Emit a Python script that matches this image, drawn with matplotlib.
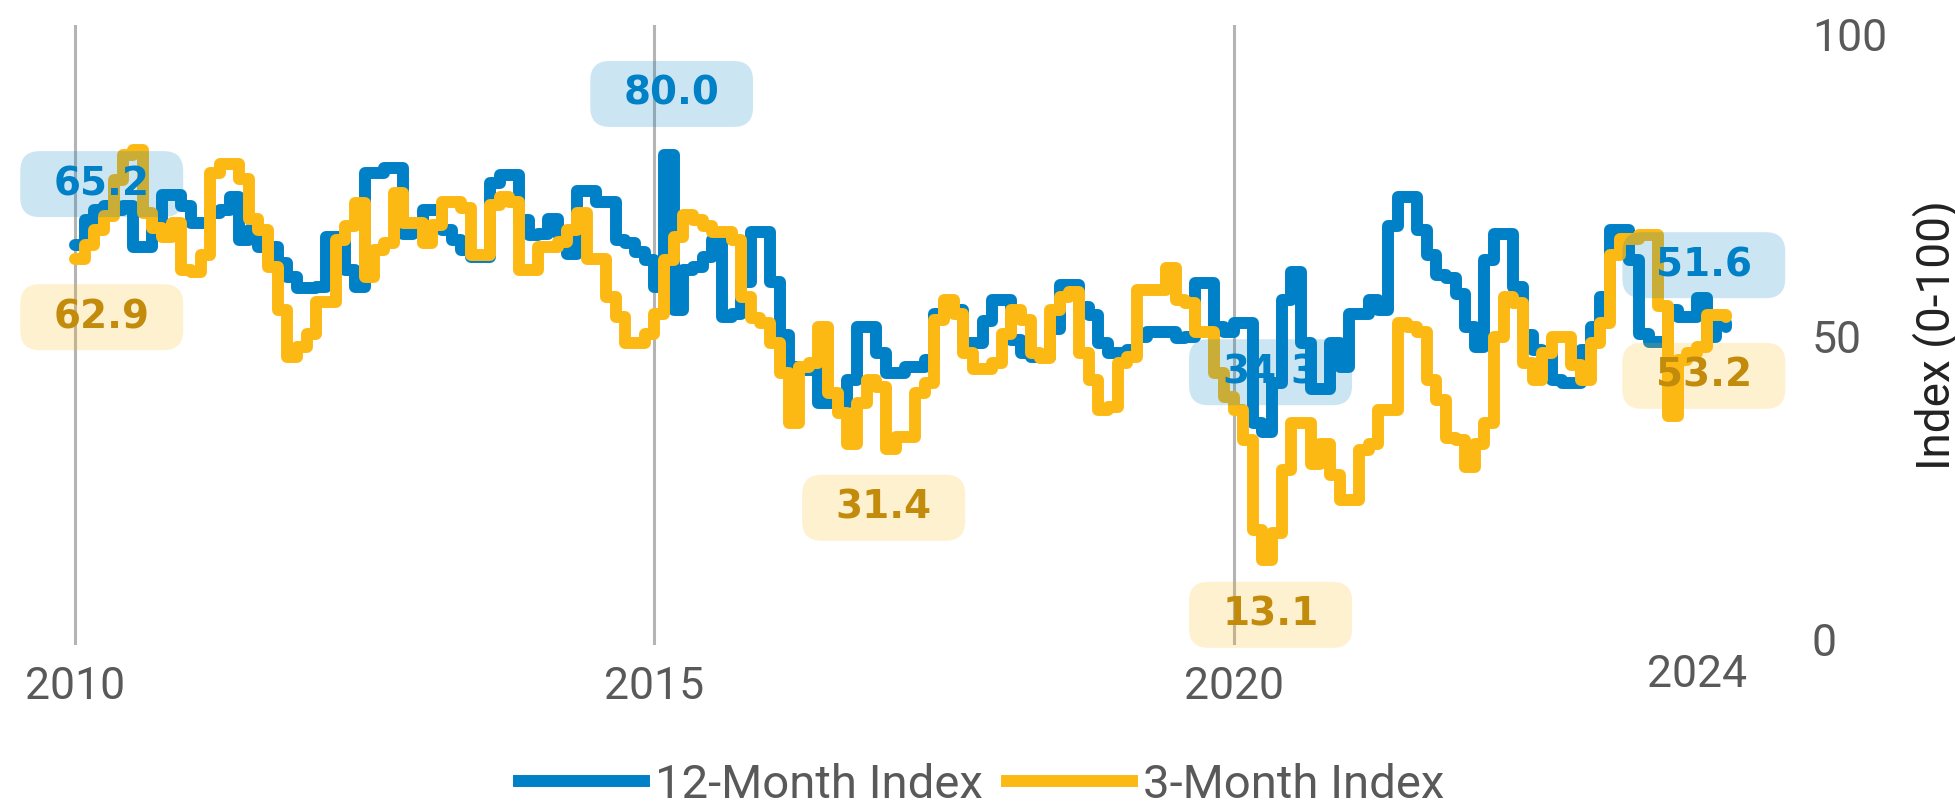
import numpy as np
import matplotlib.pyplot as plt
from matplotlib.patches import BoxStyle
from matplotlib.lines import Line2D
import matplotlib.transforms as mtransforms

# monthly index values, Jan 2010 onwards
index_12m = [
    65.2, 69.3, 70.9, 71.5, 70.9, 71.5, 64.8, 64.8, 67.6, 73.4,
    73.4, 71.5, 68.7, 68.7, 70.4, 70.9, 73.0, 66.0, 67.6, 64.8,
    64.8, 62.1, 59.9, 58.0, 58.0, 58.2, 66.5, 66.5, 61.0, 58.2,
    77.0, 77.0, 77.9, 77.9, 67.0, 68.4, 70.9, 70.9, 67.6, 66.0,
    64.3, 63.2, 63.2, 75.3, 76.7, 76.7, 69.3, 66.8, 67.0, 69.5,
    67.0, 63.7, 74.0, 74.0, 72.3, 72.3, 66.0, 65.4, 64.0, 62.6,
    58.2, 80.0, 54.4, 61.0, 61.5, 63.2, 66.0, 53.3, 53.8, 59.0,
    67.3, 67.3, 59.0, 50.3, 45.0, 44.5, 44.5, 39.0, 39.0, 39.0,
    42.8, 51.6, 51.6, 47.2, 43.9, 43.9, 45.0, 45.0, 46.1, 53.8,
    54.4, 54.4, 48.9, 48.9, 52.5, 56.0, 56.0, 49.4, 47.2, 46.7,
    46.7, 51.3, 58.5, 58.5, 54.9, 53.6, 48.9, 47.2, 47.2, 47.8,
    50.0, 50.8, 50.8, 50.8, 49.7, 50.0, 58.8, 58.8, 51.6, 50.8,
    52.2, 52.2, 35.7, 34.3, 42.3, 56.0, 60.7, 48.9, 41.4, 41.4,
    48.9, 45.0, 53.8, 53.8, 56.0, 54.4, 68.2, 73.1, 73.1, 67.6,
    63.5, 60.2, 59.6, 57.1, 51.6, 48.3, 62.6, 67.0, 67.0, 58.2,
    50.3, 47.8, 47.2, 42.8, 42.3, 42.3, 47.8, 51.6, 56.6, 67.6,
    67.6, 62.6, 50.5, 49.1, 49.1, 54.4, 53.3, 53.3, 56.3, 50.0,
    52.2, 51.6,
]
index_3m = [
    62.9, 65.1, 67.6, 70.0, 75.9, 80.0, 80.8, 70.4, 68.0, 66.5,
    68.7, 61.0, 60.7, 63.5, 77.0, 78.6, 78.6, 76.1, 69.5, 67.6,
    61.5, 54.4, 46.7, 48.3, 50.5, 55.7, 55.7, 66.0, 68.2, 72.0,
    59.9, 64.3, 65.4, 73.7, 68.7, 68.7, 65.4, 68.4, 72.3, 72.3,
    71.2, 63.5, 63.5, 71.7, 73.1, 72.3, 61.0, 61.0, 64.8, 64.8,
    65.7, 67.6, 70.4, 62.9, 62.9, 56.6, 53.3, 48.9, 48.9, 50.5,
    53.8, 62.6, 66.5, 70.1, 69.3, 68.2, 67.3, 67.3, 66.0, 56.6,
    53.0, 52.2, 48.9, 43.9, 35.7, 45.0, 45.6, 51.6, 40.6, 37.3,
    32.3, 39.0, 42.8, 41.7, 31.4, 33.4, 33.4, 40.6, 42.3, 52.7,
    56.0, 53.8, 47.2, 44.7, 44.7, 45.6, 50.5, 54.4, 52.7, 47.2,
    46.4, 54.4, 56.6, 57.4, 47.2, 42.8, 37.9, 38.4, 45.6, 46.7,
    57.7, 57.7, 57.7, 61.3, 56.0, 55.5, 50.8, 50.8, 43.9, 40.0,
    37.9, 32.9, 18.0, 13.1, 17.5, 27.9, 35.7, 35.7, 29.0, 32.3,
    27.1, 23.0, 23.0, 31.2, 32.3, 37.9, 37.9, 52.2, 51.6, 50.8,
    42.8, 39.5, 33.2, 32.9, 28.5, 32.3, 35.7, 50.0, 56.6, 55.5,
    45.6, 42.8, 47.2, 50.0, 50.0, 45.3, 42.8, 48.9, 52.2, 63.5,
    66.2, 66.2, 66.8, 66.8, 55.0, 36.8, 46.1, 47.2, 48.3, 53.6,
    53.6, 53.2,
]
start_year = 2010
year_ticks = [2010, 2015, 2020]
last_year_label = 2024
y_ticks = [0, 50, 100]
series_names = ['12-Month Index', '3-Month Index']

BLUE = '#0080C6'
GOLD = '#FDB913'
GOLD_TEXT = '#C28B0C'
GREY = '#595959'
LW = 8.6

x = start_year + np.arange(len(index_12m)) / 12
blue = np.array(index_12m)
gold = np.array(index_3m)

fig = plt.figure(figsize=(19.56, 8.09), dpi=100)
ax = fig.add_axes([0.0205, 0.2027, 0.8973, 0.7664])

ax.plot(x, blue, drawstyle='steps-post', color=BLUE, lw=LW,
        solid_joinstyle='round', solid_capstyle='round', zorder=2)
ax.plot(x, gold, drawstyle='steps-post', color=GOLD, lw=LW,
        solid_joinstyle='round', solid_capstyle='round', zorder=3)

ax.set_xlim(2009.698, 2024.849)
ax.set_ylim(-0.99, 101.5)
for s in ax.spines.values():
    s.set_visible(False)

ax.set_xticks(year_ticks)
ax.xaxis.grid(True, color='#B4B4B4', lw=2.2)
ax.set_axisbelow(True)
ax.tick_params(axis='x', length=0, pad=15, labelsize=32, labelcolor=GREY)
for lab in ax.get_xticklabels():
    lab.set_fontfamily('Roboto')

ax.yaxis.tick_right()
ax.set_yticks(y_ticks)
ax.tick_params(axis='y', length=0, pad=12, labelsize=32, labelcolor=GREY)
for lab in ax.get_yticklabels():
    lab.set_fontfamily('Roboto')
ax.yaxis.set_label_position('right')
ax.set_ylabel('Index (0-100)', fontsize=33, color='#222222',
              family='Roboto', labelpad=18)

# 2024 sits a little higher than the other year labels
trans = mtransforms.blended_transform_factory(ax.transData, ax.transAxes)
ax.text(last_year_label, -0.014, str(last_year_label), transform=trans,
        ha='center', va='top', fontsize=32, color=GREY, family='Roboto')


# rounded label box, wider than it is padded vertically
def wide_box(x0, y0, width, height, mutation_size):
    extra = 0.5 * mutation_size
    return BoxStyle.Round(pad=0.36, rounding_size=0.5)(
        x0 - extra, y0, width + 2 * extra, height, mutation_size)


callouts = [
    (blue[0], 2010.23, 75.2, BLUE, BLUE),
    (gold[0], 2010.23, 53.2, GOLD_TEXT, GOLD),
    (blue.max(), 2015.15, 90.1, BLUE, BLUE),
    (gold[72:96].min(), 2016.98, 21.7, GOLD_TEXT, GOLD),
    (blue.min(), 2020.32, 44.1, BLUE, BLUE),
    (gold.min(), 2020.32, 4.0, GOLD_TEXT, GOLD),
    (blue[-1], 2024.06, 61.8, BLUE, BLUE),
    (gold[-1], 2024.06, 43.5, GOLD_TEXT, GOLD),
]
for val, cx, cy, tcol, bcol in callouts:
    ax.text(cx, cy, f'{val:.1f}', ha='center', va='center', fontsize=28,
            fontweight='bold', color=tcol, family='DejaVu Sans', zorder=5,
            bbox=dict(boxstyle=wide_box, facecolor=bcol, alpha=0.2,
                      edgecolor='none'))

handles = [Line2D([], [], color=BLUE, lw=LW),
           Line2D([], [], color=GOLD, lw=LW)]
leg = fig.legend(handles, series_names, loc='center', ncol=2,
                 bbox_to_anchor=(0.502, 0.03), frameon=False,
                 prop={'family': 'Roboto', 'size': 34},
                 handlelength=2.64, handletextpad=0.25, columnspacing=0.5)
for t in leg.get_texts():
    t.set_color(GREY)

fig.savefig('out.png', dpi=100)
